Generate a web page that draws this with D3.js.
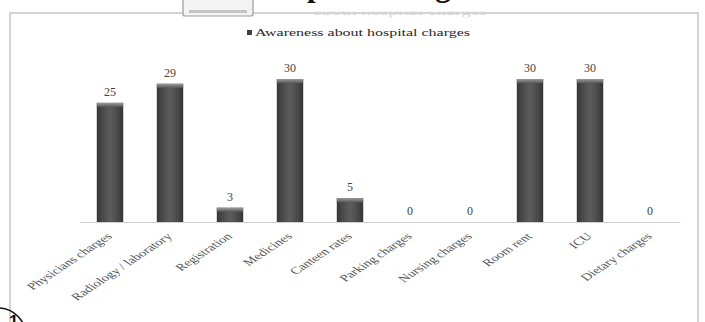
<!DOCTYPE html>
<html>
<head>
<meta charset="utf-8">
<script src="https://cdn.jsdelivr.net/npm/d3@7"></script>
<style>
  html, body { margin: 0; padding: 0; background: #fff; overflow: hidden; }
  svg { display: block; }
</style>
</head>
<body>
<svg id="chart" width="705" height="322"></svg>
<script>
// Categories of hospital charges and the number of respondents aware of each
const categories = [
  "Physicians charges", "Radiology / laboratory", "Registration", "Medicines",
  "Canteen rates", "Parking charges", "Nursing charges", "Room rent", "ICU",
  "Dietary charges"
];
const values = [25, 29, 3, 30, 5, 0, 0, 30, 30, 0];
const seriesName = "Awareness about hospital charges";
const headingText = "Awareness about hospital charges";
const faintTitle = "about hospital charges";
const figureNumber = "1";

const W = 705, H = 322;
const svg = d3.select("#chart");
const serif = "'Liberation Serif', 'Times New Roman', serif";
const rows = categories.map((c, i) => ({ cat: c, val: values[i] }));

const defs = svg.append("defs");
const grad = defs.append("linearGradient").attr("id", "barGrad")
  .attr("x1", "0%").attr("x2", "100%").attr("y1", "0%").attr("y2", "0%");
[[0, "#353535"], [0.18, "#474747"], [0.5, "#5d5d5d"], [0.82, "#474747"], [1, "#333333"]]
  .forEach(([o, c]) => grad.append("stop").attr("offset", o).attr("stop-color", c));
const capGrad = defs.append("linearGradient").attr("id", "capGrad")
  .attr("x1", "0%").attr("x2", "0%").attr("y1", "0%").attr("y2", "100%");
[[0, "#9a9a9a"], [1, "#5a5a5a"]]
  .forEach(([o, c]) => capGrad.append("stop").attr("offset", o).attr("stop-color", c));
defs.append("clipPath").attr("id", "faintClip")
  .append("rect").attr("x", 0).attr("y", 11.5).attr("width", W).attr("height", 6);

// Chart frame
svg.append("rect").attr("x", 10).attr("y", 13).attr("width", 688).attr("height", H)
  .attr("fill", "#fff").attr("stroke", "#d4d4d4").attr("stroke-width", 2);

// Partly hidden title strip at the top of the frame
svg.append("rect").attr("x", 183).attr("y", -4).attr("width", 70).attr("height", 20)
  .attr("rx", 2).attr("fill", "#f3f3f3").attr("stroke", "#9c9c9c").attr("stroke-width", 1.2);
svg.append("rect").attr("x", 189).attr("y", 10).attr("width", 58).attr("height", 3)
  .attr("fill", "#c4c4c4");
svg.append("text").attr("clip-path", "url(#faintClip)")
  .attr("x", 313).attr("y", 15)
  .attr("textLength", 174).attr("lengthAdjust", "spacingAndGlyphs")
  .attr("font-family", serif).attr("font-size", 14).attr("fill", "#d6d6d6")
  .text(faintTitle);

// Heading text above the figure (only its descenders fall inside the view)
const heading = svg.append("text")
  .attr("y", -3.7)
  .attr("font-family", serif).attr("font-size", 31).attr("font-weight", "bold")
  .attr("fill", "#111").text(headingText);
const pIndex = headingText.indexOf("hospital") + 3;
const prefixLen = heading.node().getSubStringLength(0, pIndex);
heading.attr("x", 307 - prefixLen);

// Scales
const x = d3.scaleBand().domain(categories).range([80, 680])
  .paddingInner(0.56).paddingOuter(0.28);
const y = d3.scaleLinear().domain([0, 30]).range([222, 79]);

// Legend
svg.append("rect").attr("x", 247).attr("y", 30).attr("width", 5).attr("height", 5)
  .attr("fill", "#3f3f3f");
svg.append("text").attr("x", 255).attr("y", 35.5)
  .attr("textLength", 215).attr("lengthAdjust", "spacingAndGlyphs")
  .attr("font-family", serif).attr("font-size", 11).attr("fill", "#2a2a2a")
  .text(seriesName);

// Category axis
const xAxis = svg.append("g").attr("transform", `translate(0,${y(0)})`)
  .call(d3.axisBottom(x).tickSize(0).tickFormat(""));
xAxis.select(".domain").attr("stroke", "#d0d0d0").attr("stroke-width", 1.2);

// Bars
const bars = svg.append("g").selectAll("g").data(rows).join("g");
bars.append("rect")
  .attr("x", d => x(d.cat))
  .attr("y", d => y(d.val))
  .attr("width", x.bandwidth())
  .attr("height", d => y(0) - y(d.val))
  .attr("fill", "url(#barGrad)");
bars.filter(d => d.val > 0).append("rect")
  .attr("x", d => x(d.cat))
  .attr("y", d => y(d.val))
  .attr("width", x.bandwidth())
  .attr("height", 4)
  .attr("fill", "url(#capGrad)");

// Value labels
svg.append("g").selectAll("text").data(rows).join("text")
  .attr("x", d => x(d.cat) + x.bandwidth() / 2)
  .attr("y", d => y(d.val) - 7)
  .attr("text-anchor", "middle")
  .attr("font-family", serif).attr("font-size", 12).attr("fill", "#444")
  .text(d => d.val);

// Category labels, slanted
svg.append("g").selectAll("text").data(categories).join("text")
  .attr("transform", d =>
    `translate(${x(d) + x.bandwidth() / 2 + 3},${y(0) + 15}) scale(1.5,1) rotate(-45)`)
  .attr("text-anchor", "end")
  .attr("font-family", serif).attr("font-size", 10).attr("fill", "#555")
  .text(d => d);

// Figure number marker in the corner
svg.append("circle").attr("cx", -2).attr("cy", 336).attr("r", 28)
  .attr("fill", "none").attr("stroke", "#111").attr("stroke-width", 1.6);
svg.append("text").attr("x", 9).attr("y", 327)
  .attr("font-family", "'Liberation Sans', Arial, sans-serif").attr("font-size", 17)
  .attr("font-weight", "bold").attr("fill", "#111").text(figureNumber);
</script>
</body>
</html>
